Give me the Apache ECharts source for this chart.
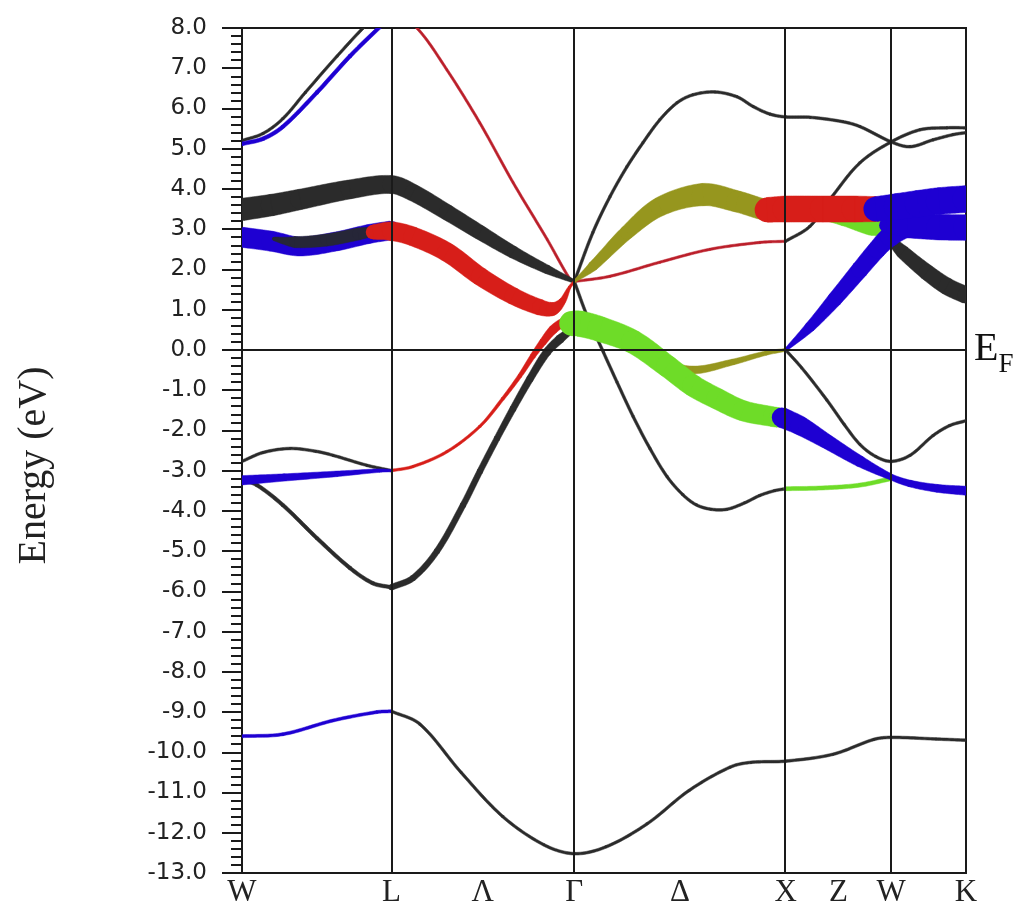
<!DOCTYPE html>
<html><head><meta charset="utf-8">
<script src="https://cdn.jsdelivr.net/npm/echarts@6/dist/echarts.min.js"></script>
<style>html,body{margin:0;padding:0;background:#fff}#c{width:1025px;height:908px}</style>
</head><body><div id="c"></div><script>
// ---- k-path (high-symmetry points, path length units) ----
const K_SYM = [0, 0.707, 1.573, 2.573, 3.073, 3.427];            // W L Γ X W K
const K_LABEL_POS = [0, 0.707, 1.140, 1.573, 2.073, 2.573, 2.823, 3.073, 3.427];
const K_LABELS = ['W', 'L', 'Λ', 'Γ', 'Δ', 'X', 'Z', 'W', 'K'];
const E_MIN = -13, E_MAX = 8, E_STEP = 1;

// ---- thin bands [k, E] ----
const thinBlackWLtop = [[0,5.2],[0.1,5.38],[0.194,5.75],[0.3,6.4],[0.45,7.3],[0.573,8.0],[0.707,8.7]];
const thinRedLGtop = [[0.707,8.45],[0.828,8.0],[0.97,6.96],[1.126,5.64],[1.283,4.16],[1.444,2.75],[1.552,1.76],[1.573,1.7]];
const thinBlackWLmid = [[0,-2.77],[0.1,-2.55],[0.227,-2.45],[0.35,-2.52],[0.431,-2.62],[0.592,-2.87],[0.707,-3.0]];
const thinBlackWLdeep = [[0,-3.22],[0.071,-3.36],[0.194,-3.86],[0.355,-4.68],[0.511,-5.42],[0.62,-5.8],[0.707,-5.9]];
const thinBlueWLlow = [[0,-9.6],[0.194,-9.55],[0.431,-9.21],[0.639,-9.0],[0.707,-8.98]];
const thinBlackLowest = [[0.707,-8.98],[0.842,-9.3],[1.037,-10.5],[1.235,-11.6],[1.429,-12.3],[1.573,-12.52],[1.723,-12.35],[1.917,-11.78],[2.116,-10.95],[2.31,-10.37],[2.409,-10.25],[2.573,-10.22],[2.797,-10.05],[2.991,-9.68],[3.073,-9.63],[3.285,-9.67],[3.427,-9.7]];
const thinBlackGXup = [[1.573,1.7],[1.661,2.92],[1.742,3.81],[1.822,4.55],[1.898,5.15],[1.978,5.72],[2.059,6.14],[2.135,6.34],[2.239,6.41],[2.343,6.29],[2.419,6.05],[2.499,5.86],[2.573,5.79],[2.69,5.78],[2.845,5.67],[2.925,5.55],[3.073,5.17],[3.162,5.05],[3.271,5.22],[3.366,5.35],[3.427,5.4]];
const thinRedGX = [[1.573,1.7],[1.742,1.83],[1.978,2.18],[2.215,2.5],[2.451,2.67],[2.573,2.7]];
const thinBlackXK = [[2.573,2.7],[2.688,3.07],[2.793,3.81],[2.925,4.65],[3.073,5.17],[3.209,5.47],[3.337,5.52],[3.427,5.52]];
const thinBlackGXdown = [[1.573,1.7],[1.633,0.85],[1.71,-0.05],[1.775,-0.8],[1.851,-1.65],[1.931,-2.45],[2.012,-3.15],[2.087,-3.6],[2.15,-3.85],[2.22,-3.96],[2.296,-3.96],[2.38,-3.8],[2.45,-3.62],[2.52,-3.5],[2.573,-3.45]];
const thinGreenXW = [[2.573,-3.45],[2.75,-3.43],[2.925,-3.36],[3.073,-3.2]];
const thinBlackXWK = [[2.573,0.0],[2.65,-0.45],[2.769,-1.25],[2.85,-1.85],[2.925,-2.35],[3.0,-2.65],[3.073,-2.77],[3.162,-2.62],[3.271,-2.13],[3.35,-1.88],[3.427,-1.76]];
const thinBlackWKlow = [[3.073,-3.18],[3.2,-3.33],[3.3,-3.45],[3.427,-3.53]];

// ---- fat bands [k, E, weight] ----
const fatBlueWLtop = [[0,5.12,0.13],[0.1,5.25,0.13],[0.194,5.55,0.13],[0.355,6.4,0.13],[0.511,7.3,0.13],[0.667,8.1,0.13],[0.707,8.3,0.13]];
const fatBlueWLlow = [[0,-3.24,0.32],[0.2,-3.17,0.25],[0.45,-3.08,0.19],[0.65,-3.0,0.12],[0.707,-3.0,0.08]];
const fatBlackWLG = [[0,3.49,0.77],[0.14,3.6,0.74],[0.275,3.74,0.7],[0.511,3.99,0.65],[0.707,4.11,0.62],[0.809,3.91,0.58],[0.97,3.42,0.54],[1.126,2.92,0.5],[1.283,2.43,0.42],[1.444,2.0,0.3],[1.573,1.7,0.12]];
const fatBlueWL = [[0,2.8,0.69],[0.14,2.7,0.69],[0.275,2.57,0.65],[0.45,2.7,0.65],[0.6,2.88,0.65],[0.707,2.97,0.65]];
const fatDarkWL = [[0.15,2.76,0.12],[0.25,2.68,0.38],[0.4,2.73,0.42],[0.55,2.88,0.42],[0.64,2.96,0.3],[0.68,2.98,0.12]];
const fatRedLG = [[0.62,2.93,0.5],[0.707,2.95,0.65],[0.809,2.82,0.65],[0.97,2.43,0.65],[1.126,1.83,0.62],[1.283,1.34,0.58],[1.41,1.06,0.54],[1.47,1.02,0.46],[1.515,1.2,0.23],[1.55,1.55,0.1],[1.573,1.7,0.08]];
const fatRedLGlow = [[0.707,-3.0,0.09],[0.809,-2.9,0.09],[0.97,-2.53,0.09],[1.126,-1.9,0.09],[1.235,-1.21,0.11],[1.316,-0.64,0.14],[1.377,-0.15,0.18],[1.425,0.2,0.24],[1.472,0.5,0.3],[1.52,0.68,0.3],[1.56,0.72,0.18]];
const fatBlackLGdot = [[0.707,-5.9,0.2],[0.809,-5.67,0.2],[0.923,-5.0,0.2],[1.046,-3.86,0.2],[1.126,-3.02,0.2],[1.207,-2.2,0.2],[1.283,-1.46,0.22],[1.363,-0.72,0.24],[1.444,-0.05,0.27],[1.505,0.27,0.3],[1.56,0.5,0.22]];
const fatOliveGX = [[1.573,1.7,0.08],[1.661,2.08,0.33],[1.822,2.92,0.48],[1.978,3.56,0.65],[2.182,3.86,0.77],[2.343,3.69,0.73],[2.485,3.47,0.72],[2.53,3.48,0.72]];
const fatRedXW = [[2.485,3.48,0.85],[2.573,3.5,0.9],[2.75,3.5,0.9],[2.9,3.5,0.9],[3.0,3.5,0.86]];
const fatGreenXW = [[2.7,3.45,0.4],[2.85,3.3,0.6],[2.98,3.1,0.7],[3.06,3.05,0.6]];
const fatBlueWKup = [[3.0,3.5,0.85],[3.1,3.56,0.9],[3.2,3.63,0.92],[3.3,3.7,0.92],[3.427,3.75,0.92]];
const fatBlueWKlow = [[3.05,3.1,0.5],[3.15,3.08,0.82],[3.3,3.05,0.88],[3.427,3.04,0.88]];
const fatBlueXWrise = [[2.573,0.0,0.1],[2.688,0.57,0.35],[2.806,1.26,0.5],[2.925,2.0,0.58],[3.006,2.5,0.62],[3.068,2.82,0.69],[3.162,3.07,0.6]];
const fatBlackWK = [[3.073,2.72,0.3],[3.128,2.43,0.46],[3.242,1.93,0.54],[3.337,1.58,0.58],[3.427,1.36,0.58]];
const fatGreenGX = [[1.56,0.66,0.85],[1.6,0.65,0.88],[1.694,0.52,0.86],[1.851,0.2,0.8],[2.012,-0.4,0.75],[2.135,-0.89,0.74],[2.248,-1.21,0.72],[2.371,-1.51,0.7],[2.513,-1.66,0.68],[2.54,-1.68,0.68]];
const fatOliveGXlow = [[1.6,0.6,0.2],[1.8,0.15,0.25],[1.978,-0.3,0.27],[2.135,-0.5,0.27],[2.324,-0.3,0.2],[2.48,-0.08,0.15],[2.573,0.0,0.1]];
const fatBlueXK = [[2.555,-1.68,0.69],[2.641,-1.88,0.65],[2.769,-2.28,0.5],[2.925,-2.77,0.38],[3.073,-3.16,0.2],[3.162,-3.32,0.23],[3.29,-3.44,0.27],[3.427,-3.5,0.31]];

// ---- styling ----
const C = { black: '#2b2b2b', blue: '#1e00d2', red: '#d71e19', redThin: '#bb1f2a', green: '#6edc28', olive: '#96961e', dark: '#262638', axis: '#1a1a1a' };
const FAT_PX = 29;
const THIN_PX = 2.7;

// band drawn through the cartesian scale: Hermite spline in pixel space, width from weight
function band(pts, color, fixedWidth) {
  return {
    type: 'custom', z: 3, silent: true, clip: true, encode: { x: 0, y: 1 }, data: pts,
    renderItem: function (params, api) {
      const i = params.dataIndex, n = pts.length;
      const P = function (j) {
        const c = api.coord([pts[j][0], pts[j][1]]);
        return [c[0], c[1], pts[j].length > 2 ? pts[j][2] * FAT_PX : fixedWidth];
      };
      const dist = (a, b) => Math.hypot(a[0] - b[0], a[1] - b[1]) || 1e-6;
      const children = [];
      const A = P(i);
      children.push({ type: 'circle', shape: { cx: A[0], cy: A[1], r: A[2] / 2 }, style: { fill: color } });
      if (i < n - 1) {
        const B = P(i + 1);
        const dAB = dist(A, B);
        let TA, TB;
        if (i > 0) { const Pm = P(i - 1); const d0 = dist(Pm, A); const f = dAB / (d0 + dAB); TA = [(B[0] - Pm[0]) * f, (B[1] - Pm[1]) * f]; }
        else TA = [B[0] - A[0], B[1] - A[1]];
        if (i + 2 < n) { const Pp = P(i + 2); const d2 = dist(B, Pp); const f = dAB / (dAB + d2); TB = [(Pp[0] - A[0]) * f, (Pp[1] - A[1]) * f]; }
        else TB = [B[0] - A[0], B[1] - A[1]];
        const S = 16, left = [], right = [];
        for (let s = 0; s <= S; s++) {
          const t = s / S, t2 = t * t, t3 = t2 * t;
          const h00 = 2 * t3 - 3 * t2 + 1, h10 = t3 - 2 * t2 + t, h01 = -2 * t3 + 3 * t2, h11 = t3 - t2;
          const d00 = 6 * t2 - 6 * t, d10 = 3 * t2 - 4 * t + 1, d01 = -6 * t2 + 6 * t, d11 = 3 * t2 - 2 * t;
          const px = h00 * A[0] + h10 * TA[0] + h01 * B[0] + h11 * TB[0];
          const py = h00 * A[1] + h10 * TA[1] + h01 * B[1] + h11 * TB[1];
          const dx = d00 * A[0] + d10 * TA[0] + d01 * B[0] + d11 * TB[0];
          const dy = d00 * A[1] + d10 * TA[1] + d01 * B[1] + d11 * TB[1];
          const len = Math.hypot(dx, dy) || 1;
          const nx = -dy / len, ny = dx / len;
          const w = (A[2] + (B[2] - A[2]) * t) / 2;
          left.push([px + nx * w, py + ny * w]);
          right.push([px - nx * w, py - ny * w]);
        }
        children.push({ type: 'polygon', shape: { points: left.concat(right.reverse()) }, style: { fill: color, stroke: color, lineWidth: 0.5 } });
      }
      return { type: 'group', children: children };
    }
  };
}
const thin = (pts, color, w) => band(pts, color, w || THIN_PX);
const fat = (pts, color) => band(pts, color, 0);

// frame: vertical lines at symmetry points and the Fermi level
const frame = {
  type: 'line', data: [], silent: true, z: 1,
  markLine: {
    silent: true, symbol: 'none', animation: false,
    lineStyle: { color: C.axis, width: 2, type: 'solid' },
    label: { show: false },
    data: K_SYM.slice(1, -1).map(v => ({ xAxis: v })).concat([{
      yAxis: 0,
      label: { show: true, position: 'end', distance: 8, formatter: '{e|E}{f|F}',
        rich: {
          e: { fontFamily: 'Liberation Serif', fontSize: 40, color: '#111', lineHeight: 58, verticalAlign: 'middle' },
          f: { fontFamily: 'Liberation Serif', fontSize: 27, color: '#111', lineHeight: 58, verticalAlign: 'bottom' }
        } }
    }])
  }
};

const option = {
  animation: false,
  backgroundColor: '#ffffff',
  grid: { left: 242, right: 59, top: 28, bottom: 31, show: true, borderColor: C.axis, borderWidth: 2, backgroundColor: 'transparent' },
  xAxis: {
    type: 'value', min: K_SYM[0], max: K_SYM[K_SYM.length - 1],
    axisLine: { show: true, lineStyle: { color: C.axis, width: 2 } },
    axisTick: { show: false }, splitLine: { show: false },
    axisLabel: {
      customValues: K_LABEL_POS, margin: 4, fontFamily: 'Liberation Serif', fontSize: 31, color: '#222',
      showMinLabel: true, showMaxLabel: true,
      formatter: function (v) {
        let best = 0;
        K_LABEL_POS.forEach((p, i) => { if (Math.abs(p - v) < Math.abs(K_LABEL_POS[best] - v)) best = i; });
        return K_LABELS[best];
      }
    }
  },
  yAxis: {
    type: 'value', min: E_MIN, max: E_MAX, interval: E_STEP,
    name: 'Energy (eV)', nameLocation: 'middle', nameGap: 188,
    nameTextStyle: { fontFamily: 'Liberation Serif', fontSize: 40, color: '#222', padding: [0, 30, 0, 0] },
    axisLine: { show: true, lineStyle: { color: C.axis, width: 2 } },
    axisTick: { show: true, inside: false, length: 20, lineStyle: { color: C.axis, width: 2 } },
    minorTick: { show: true, splitNumber: 5, length: 11, lineStyle: { color: C.axis, width: 2 } },
    splitLine: { show: false },
    axisLabel: { margin: 35, fontFamily: 'DejaVu Sans', fontSize: 23, color: '#222', formatter: v => v.toFixed(1) }
  },
  series: [
    frame,
    thin(thinBlackLowest, C.black),
    thin(thinBlackWLtop, C.black),
    thin(thinRedLGtop, C.redThin, 2.4),
    thin(thinBlackWLmid, C.black),
    thin(thinBlackWLdeep, C.black, 3.6),
    thin(thinBlueWLlow, C.blue, 3),
    thin(thinBlackGXup, C.black),
    thin(thinRedGX, C.redThin, 2.4),
    thin(thinBlackXK, C.black),
    thin(thinBlackGXdown, C.black),
    thin(thinGreenXW, C.green, 4),
    thin(thinBlackXWK, C.black),
    thin(thinBlackWKlow, C.black),
    fat(fatOliveGXlow, C.olive),
    fat(fatBlackLGdot, C.black),
    fat(fatRedLGlow, C.red),
    fat(fatBlackWLG, C.black),
    fat(fatBlueWL, C.blue),
    fat(fatDarkWL, C.dark),
    fat(fatRedLG, C.red),
    fat(fatOliveGX, C.olive),
    fat(fatGreenXW, C.green),
    fat(fatBlackWK, C.black),
    fat(fatBlueXWrise, C.blue),
    fat(fatBlueWKlow, C.blue),
    fat(fatRedXW, C.red),
    fat(fatBlueWKup, C.blue),
    fat(fatGreenGX, C.green),
    fat(fatBlueXK, C.blue),
    fat(fatBlueWLlow, C.blue),
    fat(fatBlueWLtop, C.blue)
  ]
};
const chart = echarts.init(document.getElementById('c'), null, { renderer: 'canvas' });
chart.setOption(option);
</script></body></html>
